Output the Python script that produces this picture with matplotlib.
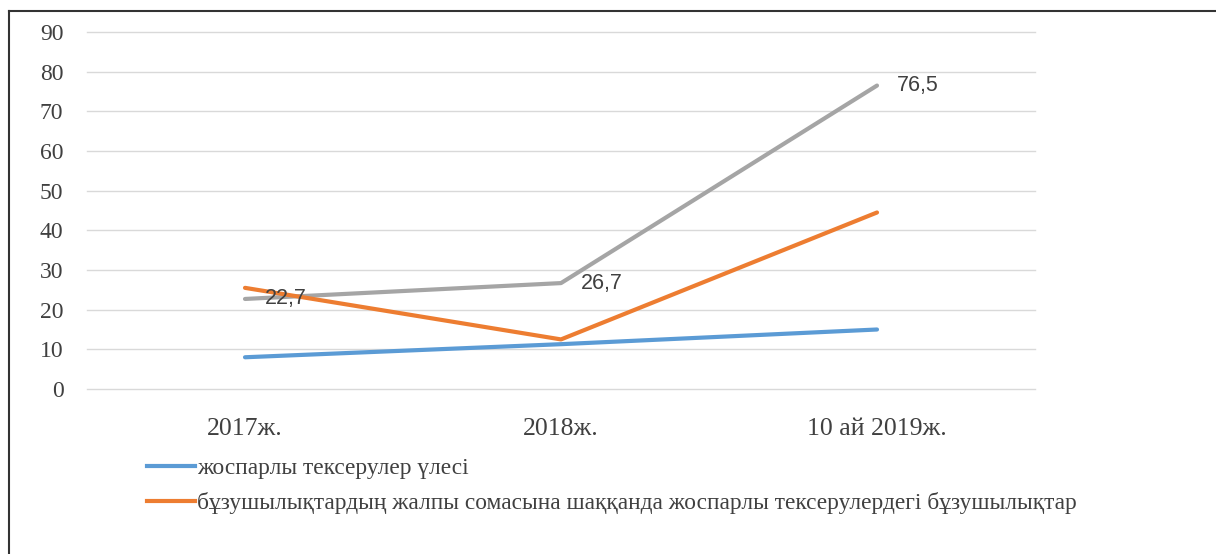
import matplotlib
matplotlib.use("Agg")
import matplotlib.pyplot as plt
from matplotlib.lines import Line2D

# ========== DATA ==========
categories = ["2017ж.", "2018ж.", "10 ай 2019ж."]
planned_share = [8.0, 11.3, 15.0]
violations_share = [25.5, 12.5, 44.5]
grey_series = [22.7, 26.7, 76.5]
grey_labels = ["22,7", "26,7", "76,5"]
legend_labels = [
    "жоспарлы тексерулер үлесі",
    "бұзушылықтардың жалпы сомасына шаққанда жоспарлы тексерулердегі бұзушылықтар",
]
y_ticks = [0, 10, 20, 30, 40, 50, 60, 70, 80, 90]

BLUE = "#5B9BD5"
ORANGE = "#ED7D31"
GREY = "#A5A5A5"

# ========== FIGURE ==========
fig = plt.figure(figsize=(12.16, 5.54), dpi=100)
ax = fig.add_axes([87 / 1216, 1 - 389 / 554, (1035 - 87) / 1216, (389 - 32) / 554])

x = [i + 0.5 for i in range(len(categories))]
ax.plot(x, planned_share, color=BLUE, lw=3, solid_capstyle="round", zorder=3)
ax.plot(x, violations_share, color=ORANGE, lw=3, solid_capstyle="round", zorder=3)
ax.plot(x, grey_series, color=GREY, lw=3, solid_capstyle="round", zorder=2)

for xi, yi, lab in zip(x, grey_series, grey_labels):
    ax.annotate(lab, (xi, yi), xytext=(14, 0), textcoords="offset points",
                ha="left", va="center", fontsize=15.5, color="#404040",
                family="Liberation Sans", zorder=4)

ax.set_xlim(0, 3)
ax.set_ylim(0, 90)
ax.set_yticks(y_ticks)
ax.set_xticks(x)
ax.set_xticklabels(categories)
ax.grid(axis="y", color="#D9D9D9", lw=1)
for gl in ax.get_ygridlines():
    gl.set_clip_on(False)
ax.set_axisbelow(True)
for s in ax.spines.values():
    s.set_visible(False)
ax.tick_params(length=0)
ax.tick_params(axis="y", pad=17)
ax.tick_params(axis="x", pad=21)
for t in ax.get_yticklabels():
    t.set_family("Liberation Serif")
    t.set_fontsize(17)
    t.set_color("#404040")
for t in ax.get_xticklabels():
    t.set_family("Liberation Serif")
    t.set_fontsize(18.5)
    t.set_color("#404040")

# legend (grey series is not listed)
handles = [Line2D([], [], color=BLUE, lw=3), Line2D([], [], color=ORANGE, lw=3)]
fig.legend(handles, legend_labels, loc="upper left",
           bbox_to_anchor=(147 / 1216, 1 - 458 / 554), frameon=False,
           prop={"family": "Liberation Serif", "size": 16.8},
           handlelength=2.05, handletextpad=0.08, labelspacing=0.55,
           borderpad=0, borderaxespad=0, labelcolor="#404040")

# outer frame lines (left and top)
fig.add_artist(Line2D([9 / 1216, 9 / 1216], [0, 1 - 11 / 554], color="#333333", lw=1.5))
fig.add_artist(Line2D([9 / 1216, 1], [1 - 11 / 554, 1 - 11 / 554], color="#333333", lw=1.5))

fig.savefig("out.png", dpi=100)
